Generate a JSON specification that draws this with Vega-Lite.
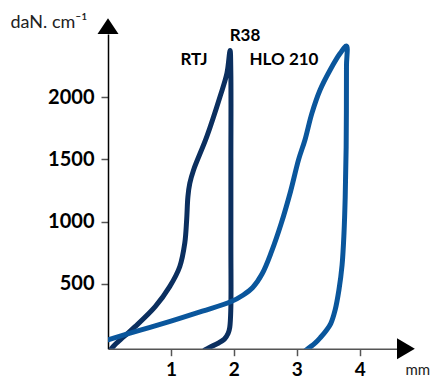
{
  "$schema": "https://vega.github.io/schema/vega-lite/v6.json",
  "width": 289,
  "height": 314.7,
  "autosize": {"type": "none"},
  "padding": {"left": 108, "top": 34, "right": 38, "bottom": 31.3},
  "background": "white",
  "config": {"view": {"stroke": null}, "font": "Lato"},
  "datasets": {
    "curves": [
      {"s": "RTJ", "i": 0, "x": 0.03, "y": -40},
      {"s": "RTJ", "i": 1, "x": 0.08, "y": -6},
      {"s": "RTJ", "i": 2, "x": 0.25, "y": 74},
      {"s": "RTJ", "i": 3, "x": 0.43, "y": 155},
      {"s": "RTJ", "i": 4, "x": 0.75, "y": 316},
      {"s": "RTJ", "i": 5, "x": 0.98, "y": 477},
      {"s": "RTJ", "i": 6, "x": 1.14, "y": 637},
      {"s": "RTJ", "i": 7, "x": 1.22, "y": 826},
      {"s": "RTJ", "i": 8, "x": 1.25, "y": 1013},
      {"s": "RTJ", "i": 9, "x": 1.27, "y": 1200},
      {"s": "RTJ", "i": 10, "x": 1.3, "y": 1308},
      {"s": "RTJ", "i": 11, "x": 1.36, "y": 1415},
      {"s": "RTJ", "i": 12, "x": 1.57, "y": 1683},
      {"s": "RTJ", "i": 13, "x": 1.78, "y": 2004},
      {"s": "RTJ", "i": 14, "x": 1.89, "y": 2192},
      {"s": "RTJ", "i": 15, "x": 1.94, "y": 2375},
      {"s": "RTJ", "i": 16, "x": 1.952, "y": 2200},
      {"s": "RTJ", "i": 17, "x": 1.953, "y": 1500},
      {"s": "RTJ", "i": 18, "x": 1.953, "y": 800},
      {"s": "RTJ", "i": 19, "x": 1.952, "y": 300},
      {"s": "RTJ", "i": 20, "x": 1.935, "y": 150},
      {"s": "RTJ", "i": 21, "x": 1.91, "y": 102},
      {"s": "RTJ", "i": 22, "x": 1.85, "y": 55},
      {"s": "RTJ", "i": 23, "x": 1.75, "y": 22},
      {"s": "RTJ", "i": 24, "x": 1.62, "y": -10},
      {"s": "RTJ", "i": 25, "x": 1.54, "y": -32},
      {"s": "HLO", "i": 0, "x": 0.0, "y": 50},
      {"s": "HLO", "i": 1, "x": 0.5, "y": 125},
      {"s": "HLO", "i": 2, "x": 1.0, "y": 200},
      {"s": "HLO", "i": 3, "x": 1.5, "y": 280},
      {"s": "HLO", "i": 4, "x": 1.95, "y": 355},
      {"s": "HLO", "i": 5, "x": 2.15, "y": 410},
      {"s": "HLO", "i": 6, "x": 2.3, "y": 470},
      {"s": "HLO", "i": 7, "x": 2.45, "y": 580},
      {"s": "HLO", "i": 8, "x": 2.6, "y": 760},
      {"s": "HLO", "i": 9, "x": 2.75, "y": 980},
      {"s": "HLO", "i": 10, "x": 2.9, "y": 1240},
      {"s": "HLO", "i": 11, "x": 3.03, "y": 1500},
      {"s": "HLO", "i": 12, "x": 3.13, "y": 1656},
      {"s": "HLO", "i": 13, "x": 3.24, "y": 1870},
      {"s": "HLO", "i": 14, "x": 3.37, "y": 2058},
      {"s": "HLO", "i": 15, "x": 3.53, "y": 2219},
      {"s": "HLO", "i": 16, "x": 3.69, "y": 2353},
      {"s": "HLO", "i": 17, "x": 3.79, "y": 2411},
      {"s": "HLO", "i": 18, "x": 3.79, "y": 2250},
      {"s": "HLO", "i": 19, "x": 3.785, "y": 1600},
      {"s": "HLO", "i": 20, "x": 3.77, "y": 1200},
      {"s": "HLO", "i": 21, "x": 3.75, "y": 900},
      {"s": "HLO", "i": 22, "x": 3.72, "y": 650},
      {"s": "HLO", "i": 23, "x": 3.67, "y": 450},
      {"s": "HLO", "i": 24, "x": 3.61, "y": 290},
      {"s": "HLO", "i": 25, "x": 3.54, "y": 180},
      {"s": "HLO", "i": 26, "x": 3.475, "y": 129},
      {"s": "HLO", "i": 27, "x": 3.38, "y": 70},
      {"s": "HLO", "i": 28, "x": 3.29, "y": 22},
      {"s": "HLO", "i": 29, "x": 3.13, "y": -40}
    ],
    "labels": [
      {"t": "RTJ", "x": 1.366, "y": 2299},
      {"t": "R38", "x": 2.177, "y": 2492},
      {"t": "HLO 210", "x": 2.797, "y": 2299}
    ],
    "yarrow": [{"x": 0, "y": 2508}],
    "xarrow": [{"x": 4.593, "y": -22}]
  },
  "layer": [
    {
      "data": {"name": "curves"},
      "mark": {"type": "line", "strokeWidth": 5, "strokeCap": "round", "strokeJoin": "round", "interpolate": "catmull-rom", "clip": true},
      "encoding": {
        "x": {
          "field": "x", "type": "quantitative",
          "scale": {"domain": [0, 4.593], "nice": false, "zero": false},
          "axis": {
            "values": [1, 2, 3, 4], "format": "d", "title": "mm", "grid": false,
            "domainColor": "#555", "domainWidth": 1.5, "tickColor": "#555", "tickWidth": 1.5, "tickSize": 7,
            "labelFont": "Lato", "labelFontWeight": "bold", "labelFontSize": 19, "labelColor": "black", "labelPadding": 5,
            "titleFont": "Lato", "titleFontWeight": "normal", "titleFontSize": 15, "titleColor": "#222",
            "titleX": 297, "titleY": 26, "titleAlign": "left", "titleBaseline": "alphabetic"
          }
        },
        "y": {
          "field": "y", "type": "quantitative",
          "scale": {"domain": [-22, 2508], "nice": false, "zero": false},
          "axis": {
            "values": [500, 1000, 1500, 2000], "format": "d", "title": "daN. cm⁻¹", "grid": false,
            "domainColor": "black", "domainWidth": 1.5, "tickColor": "#555", "tickWidth": 1.5, "tickSize": 7,
            "labelFont": "Lato", "labelFontWeight": "bold", "labelFontSize": 20, "labelColor": "black", "labelPadding": 7,
            "titleFont": "Lato", "titleFontWeight": "normal", "titleFontSize": 18, "titleColor": "#222",
            "titleAngle": 0, "titleX": -98, "titleY": -7, "titleAlign": "left", "titleBaseline": "alphabetic"
          }
        },
        "color": {"field": "s", "type": "nominal", "scale": {"domain": ["RTJ", "HLO"], "range": ["#0b2f5f", "#0a569c"]}, "legend": null},
        "order": {"field": "i", "type": "quantitative"}
      }
    },
    {
      "data": {"name": "labels"},
      "mark": {"type": "text", "font": "Lato", "fontWeight": "bold", "fontSize": 17, "align": "center", "baseline": "middle", "color": "black"},
      "encoding": {
        "x": {"field": "x", "type": "quantitative"},
        "y": {"field": "y", "type": "quantitative"},
        "text": {"field": "t"}
      }
    },
    {
      "data": {"name": "yarrow"},
      "mark": {"type": "point", "shape": "M-1,0L1,0L0,-1.5Z", "size": 441, "filled": true, "color": "black", "opacity": 1, "strokeWidth": 0},
      "encoding": {
        "x": {"field": "x", "type": "quantitative"},
        "y": {"field": "y", "type": "quantitative"}
      }
    },
    {
      "data": {"name": "xarrow"},
      "mark": {"type": "point", "shape": "M0,-1L0,1L1.7,0Z", "size": 441, "filled": true, "color": "black", "opacity": 1, "strokeWidth": 0},
      "encoding": {
        "x": {"field": "x", "type": "quantitative"},
        "y": {"field": "y", "type": "quantitative"}
      }
    }
  ]
}
